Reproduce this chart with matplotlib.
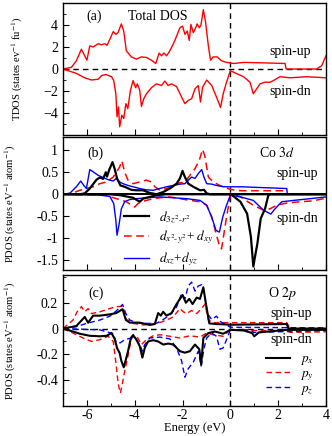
import numpy as np
import matplotlib
matplotlib.use("Agg")
import matplotlib.pyplot as plt
from matplotlib.ticker import MultipleLocator

plt.rcParams['font.family'] = ['Liberation Serif', 'DejaVu Serif']
plt.rcParams['mathtext.fontset'] = 'stix'

# ---------------- Panel (a): Total DOS ----------------
tdos_up_E = [-7, -6.65, -6.44, -6.23, -6.09, -6.0, -5.88, -5.74, -5.53, -5.39, -5.25, -5.16, -5.04, -4.9, -4.79, -4.7,
             -4.56, -4.46, -4.35, -4.14, -3.93, -3.72, -3.51, -3.3, -3.12, -2.98, -2.88, -2.78, -2.67, -2.53, -2.32,
             -2.11, -2.0, -1.9, -1.8, -1.72, -1.65, -1.55, -1.45, -1.39, -1.3, -1.23, -1.13, -1.04, -0.92, -0.83,
             -0.72, -0.55, -0.37, -0.16, 0, 0.14, 0.55, 1.53, 2.29, 2.33, 3.61, 3.82, 4.0]
tdos_up = [0, 0.15, 0.75, 1.8, 1.2, 0.8, 2.1, 2.0, 2.3, 2.2, 2.3, 2.15, 2.7, 3.4, 3.15, 3.3,
           4.1, 3.45, 1.65, 1.1, 0.9, 1.1, 1.05, 0.8, 0.5, 1.45, 1.2, 1.45, 1.2, 1.65, 2.6,
           3.75, 3.9, 3.15, 3.45, 2.6, 4.05, 3.3, 3.75, 4.1, 3.75, 4.0, 5.4, 4.3, 2.1, 0.8,
           1.1, 1.1, 0.75, 0.6, 0.55, 0.5, 0.6, 0.55, 0.5, 0.0, 0.0, 0.3, 1.2]
tdos_dn_E = [-7, -6.44, -6.09, -5.81, -5.53, -5.39, -5.21, -4.97, -4.88, -4.79, -4.74, -4.68, -4.63, -4.54, -4.46,
             -4.37, -4.29, -4.18, -4.07, -3.96, -3.89, -3.79, -3.72, -3.62, -3.51, -3.3, -3.09, -2.88, -2.74, -2.6,
             -2.46, -2.25, -2.04, -1.9, -1.76, -1.62, -1.48, -1.34, -1.25, -1.16, -0.99, -0.78, -0.58, -0.41, -0.3,
             -0.16, 0, 0.14, 0.55, 0.82, 0.96, 1.1, 1.24, 1.45, 1.66, 1.8, 2.08, 2.5, 3.2, 4.0]
tdos_dn = [0, -0.4, -0.8, -1.0, -0.93, -0.6, -0.5, -0.7, -1.05, -2.25, -4.35, -3.45, -5.25, -4.2, -4.5,
           -3.15, -3.6, -1.95, -1.05, -1.7, -1.35, -1.95, -3.4, -2.7, -2.25, -1.7, -1.35, -1.5, -1.1, -1.5,
           -1.35, -1.6, -2.55, -3.15, -2.85, -2.7, -1.8, -1.5, -3.0, -1.65, -1.0, -1.5, -2.55, -3.5, -2.25,
           -1.2, -0.15, -0.3, -0.7, -1.2, -2.25, -1.8, -1.35, -1.2, -1.2, -1.05, -0.7, -0.8, -0.7, -0.8]

# ---------------- Panel (b): Co 3d ----------------
dz2_up_E = [-7, -6.3, -6.09, -5.88, -5.6, -5.46, -5.32, -5.21, -5.16, -5.07, -4.93, -4.84, -4.74, -4.6, -4.42,
            -4.14, -3.93, -3.65, -3.37, -3.09, -2.81, -2.53, -2.25, -2.11, -2.0, -1.9, -1.76, -1.55, -1.27, -1.1,
            -0.99, -0.85, 4.0]
dz2_up = [0, 0, 0.02, 0.13, 0.33, 0.38, 0.35, 0.5, 0.4, 0.55, 0.73, 0.58, 0.36, 0.2, 0.17,
          0.1, 0.09, 0.09, 0.03, 0, 0.05, 0.13, 0.24, 0.36, 0.53, 0.39, 0.24, 0.17, 0.09, 0.1,
          0.02, 0, 0]
dz2_dn_E = [-7, -5.04, -4.63, -4.07, -3.79, -3.65, -3.37, -3.09, -2.67, 0, 0.14, 0.42, 0.7, 0.86, 0.96, 1.03,
            1.13, 1.27, 1.45, 1.59, 1.66, 4.0]
dz2_dn = [0, 0, -0.02, -0.08, -0.17, -0.1, -0.06, -0.02, 0, 0, -0.05, -0.17, -0.44, -0.97, -1.64, -1.42,
          -1.12, -0.55, -0.33, -0.02, 0, 0]

dxy_up_E = [-7, -6.58, -6.3, -6.02, -5.74, -5.46, -5.18, -4.9, -4.77, -4.63, -4.54, -4.42, -4.28, -4.07, -3.79,
            -3.51, -3.3, -3.16, -2.95, -2.67, -2.39, -2.11, -1.9, -1.69, -1.48, -1.3, -1.16, -1.06, -0.92, -0.72,
            -0.44, 0, 0.42, 2.29, 2.33, 4.0]
dxy_up = [0, 0.03, 0.09, 0.13, 0.17, 0.24, 0.28, 0.39, 0.5, 0.62, 0.76, 0.5, 0.32, 0.24, 0.28,
          0.32, 0.28, 0.17, 0.09, 0.13, 0.2, 0.26, 0.28, 0.43, 0.58, 0.77, 1.02, 0.85, 0.39, 0.28,
          0.2, 0.11, 0.08, 0.08, 0, 0]
dxy_dn_E = [-7, -5.18, -4.9, -4.63, -4.35, -4.14, -4.0, -3.86, -3.72, -3.51, -3.23, -2.95, -2.53, -2.11, -1.69,
            -1.27, -0.99, -0.78, -0.58, -0.44, -0.37, -0.27, -0.16, 0, 0.14, 0.42, 0.96, 1.38, 1.66, 1.94,
            2.36, 2.92, 3.47, 3.89, 4.0]
dxy_dn = [0, -0.02, -0.08, -0.12, -0.17, -0.25, -0.29, -0.21, -0.17, -0.14, -0.1, -0.08, -0.06, -0.1, -0.14,
          -0.17, -0.25, -0.52, -0.93, -1.2, -1.24, -0.9, -0.52, -0.02, 0, -0.06, -0.25, -0.36, -0.33, -0.25,
          -0.2, -0.17, -0.15, -0.1, -0.06]

dxz_up_E = [-7, -6.72, -6.44, -6.26, -6.13, -6.02, -5.88, -5.74, -5.53, -5.32, -5.11, -4.9, -4.77, -4.63, -4.49,
            -4.28, -4.07, -3.79, -3.51, -3.23, -2.95, -2.67, -2.39, -2.11, -1.9, -1.76, -1.62, -1.48, -1.34, -1.2,
            -1.1, -0.99, -0.78, -0.58, -0.3, 0, 0.42, 2.36, 2.38, 4.0]
dxz_up = [0, 0.02, 0.17, 0.3, 0.2, 0.13, 0.56, 0.51, 0.43, 0.38, 0.33, 0.3, 0.36, 0.28, 0.24,
          0.2, 0.17, 0.13, 0.1, 0.09, 0.13, 0.17, 0.2, 0.23, 0.24, 0.32, 0.39, 0.36, 0.47, 0.56,
          0.38, 0.24, 0.23, 0.2, 0.17, 0.17, 0.17, 0.13, 0, 0]
dxz_dn_E = [-7, -5.46, -5.04, -4.88, -4.79, -4.74, -4.65, -4.56, -4.42, -4.21, -3.93, -3.51, -2.95, -2.39, -1.83,
            -1.27, -0.99, -0.78, -0.6, -0.46, -0.32, -0.16, 0, 0.42, 0.96, 1.38, 1.69, 1.87, 2.15, 2.64,
            3.34, 4.0]
dxz_dn = [0, -0.02, -0.05, -0.21, -0.59, -0.93, -0.67, -0.33, -0.17, -0.12, -0.1, -0.08, -0.06, -0.08, -0.1,
          -0.14, -0.25, -0.52, -0.82, -0.86, -0.52, -0.25, -0.02, -0.06, -0.14, -0.36, -0.45, -0.33, -0.17, -0.14,
          -0.1, -0.06]

# ---------------- Panel (c): O 2p ----------------
px_up_E = [-7, -6.44, -6.09, -5.95, -5.74, -5.46, -5.04, -4.77, -4.51, -4.37, -4.21, -3.79, -3.37, -3.16, -3.02,
           -2.91, -2.81, -2.67, -2.46, -2.25, -2.0, -1.86, -1.72, -1.58, -1.41, -1.27, -1.13, -1.02, -0.88, -0.58,
           0, 2.36, 2.43, 4.0]
px_up = [0, 0.02, 0.09, 0.045, 0.1, 0.1, 0.11, 0.12, 0.15, 0.066, 0.046, 0.046, 0.028, 0.035, 0.12,
         0.1, 0.13, 0.1, 0.12, 0.19, 0.26, 0.2, 0.23, 0.19, 0.24, 0.23, 0.32, 0.19, 0.04, 0.035,
         0.03, 0.035, 0, 0]
px_dn_E = [-7, -6.58, -6.3, -5.88, -5.46, -5.18, -4.97, -4.84, -4.74, -4.63, -4.56, -4.46, -4.37, -4.28, -4.16,
           -4.07, -3.93, -3.79, -3.68, -3.58, -3.44, -3.23, -3.02, -2.81, -2.6, -2.39, -2.11, -1.9, -1.69, -1.48,
           -1.3, -1.22, -1.13, -0.92, -0.64, -0.3, 0, 0.56, 0.91, 1.0, 1.19, 2.36, 4.0]
px_dn = [0, -0.023, -0.04, -0.056, -0.06, -0.056, -0.035, -0.08, -0.15, -0.19, -0.25, -0.3, -0.24, -0.175, -0.073,
         -0.05, -0.086, -0.137, -0.225, -0.15, -0.1, -0.09, -0.1, -0.124, -0.116, -0.124, -0.175, -0.187, -0.175, -0.124,
         -0.16, -0.28, -0.073, -0.035, -0.023, -0.04, -0.01, -0.015, -0.035, -0.06, -0.03, -0.01, -0.01]

py_up_E = [-7, -6.58, -6.41, -6.23, -6.09, -5.95, -5.81, -5.46, -5.04, -4.77, -4.49, -4.35, -4.07, -3.65, -3.23,
           -2.95, -2.67, -2.39, -2.11, -1.97, -1.83, -1.62, -1.41, -1.2, -1.06, -0.92, -0.72, 0, 2.36, 2.5, 4.0]
py_up = [0, 0.066, 0.13, 0.17, 0.13, 0.155, 0.116, 0.13, 0.155, 0.17, 0.172, 0.07, 0.04, 0.028, 0.035,
         0.046, 0.066, 0.09, 0.155, 0.13, 0.116, 0.14, 0.116, 0.155, 0.19, 0.066, 0.046, 0.046, 0.046, 0, 0]
py_dn_E = [-7, -6.58, -6.16, -5.81, -5.46, -5.11, -4.9, -4.79, -4.69, -4.6, -4.51, -4.42, -4.28, -4.14, -3.93,
           -3.72, -3.51, -3.23, -2.95, -2.53, -2.11, -1.69, -1.27, -0.99, -0.72, -0.3, 0, 0.98, 2.36, 2.5, 4.0]
py_dn = [0, -0.035, -0.073, -0.1, -0.086, -0.06, -0.1, -0.26, -0.43, -0.5, -0.42, -0.33, -0.21, -0.073, -0.056,
         -0.124, -0.086, -0.056, -0.048, -0.06, -0.073, -0.056, -0.066, -0.035, -0.048, -0.06, -0.01, -0.015, -0.015, -0.03, -0.025]

pz_up_E = [-7, -6.44, -6.02, -5.46, -5.04, -4.77, -4.51, -4.37, -4.21, -3.93, -3.51, -3.09, -2.81, -2.53, -2.25,
           -2.04, -1.9, -1.76, -1.62, -1.48, -1.34, -1.2, -1.1, -0.96, -0.78, -0.58, -0.41, -0.16, 0, 4.0]
pz_up = [0, 0.015, 0.04, 0.066, 0.096, 0.137, 0.187, 0.116, 0.066, 0.046, 0.04, 0.04, 0.07, 0.104, 0.167,
         0.27, 0.23, 0.33, 0.36, 0.29, 0.33, 0.34, 0.28, 0.116, 0.07, 0.096, 0.053, 0.028, 0.01, 0.005]
pz_dn_E = [-7, -5.46, -4.9, -4.77, -4.6, -4.42, -4.14, -3.93, -3.79, -3.68, -3.58, -3.37, -2.95, -2.53, -2.25,
           -2.04, -1.9, -1.76, -1.55, -1.34, -1.22, -1.1, -0.99, -0.78, -0.58, -0.44, -0.3, -0.16, 0, 0.84,
           0.98, 4.0]
pz_dn = [0, -0.01, -0.04, -0.11, -0.11, -0.086, -0.073, -0.086, -0.124, -0.175, -0.124, -0.073, -0.066, -0.08, -0.15,
         -0.25, -0.377, -0.31, -0.26, -0.175, -0.29, -0.15, -0.073, -0.035, -0.06, -0.16, -0.15, -0.086, -0.01, -0.01,
         -0.03, -0.015]

xticks = [-6, -4, -2, 0, 2, 4]

fig = plt.figure(figsize=(3.32, 4.36), dpi=100)
W, H = 332, 436
def pos(top, bottom, left=63, right=326):
    return [left / W, 1 - bottom / H, (right - left) / W, (bottom - top) / H]

axA = fig.add_axes(pos(3, 135))
axB = fig.add_axes(pos(137, 270))
axC = fig.add_axes(pos(275, 406))

FS = 10
for ax in (axA, axB, axC):
    ax.set_xlim(-7, 4)
    ax.xaxis.set_major_locator(MultipleLocator(2))
    ax.xaxis.set_minor_locator(MultipleLocator(1))
    ax.tick_params(which='both', direction='in', labelsize=FS, top=False, right=False)
    ax.tick_params(which='major', length=4)
    ax.tick_params(which='minor', length=2.5)
    ax.axvline(0, color='black', ls=(0, (4, 3)), lw=1.0, zorder=1)
    for s in ax.spines.values():
        s.set_linewidth(1.0)

axA.tick_params(labelbottom=False)
axB.tick_params(labelbottom=False)

# Panel a
axA.axhline(0, color='black', ls=(0, (4, 3)), lw=1.0)
axA.plot(tdos_up_E, tdos_up, color='red', lw=1.0)
axA.plot(tdos_dn_E, tdos_dn, color='red', lw=1.0)
axA.set_ylim(-6, 6)
axA.yaxis.set_major_locator(MultipleLocator(2))
axA.yaxis.set_minor_locator(MultipleLocator(1))
axA.set_yticks([-4, -2, 0, 2, 4])
axA.set_ylabel('TDOS (states ev$^{-1}$ fu$^{-1}$)', fontsize=7.6)
axA.yaxis.set_label_coords(-0.145, 0.5)
axA.text(-5.7, 4.8, '(a)', fontsize=FS, ha='center', va='center')
axA.text(-3.05, 4.8, 'Total DOS', fontsize=FS, ha='center', va='center')
axA.text(2.5, 1.6, 'spin-up', fontsize=FS, ha='center', va='center')
axA.text(2.5, -2.05, 'spin-dn', fontsize=FS, ha='center', va='center')

# Panel b
axB.axhline(0, color='black', lw=1.4, zorder=2)
l1, = axB.plot(dz2_up_E, dz2_up, color='black', lw=1.6, zorder=3)
axB.plot(dz2_dn_E, dz2_dn, color='black', lw=1.6, zorder=3)
l2, = axB.plot(dxy_up_E, dxy_up, color='red', lw=1.1, ls=(0, (5, 3)))
axB.plot(dxy_dn_E, dxy_dn, color='red', lw=1.1, ls=(0, (5, 3)))
l3, = axB.plot(dxz_up_E, dxz_up, color='blue', lw=1.0)
axB.plot(dxz_dn_E, dxz_dn, color='blue', lw=1.0)
axB.set_ylim(-1.72, 1.3)
axB.set_yticks([-1.5, -1, -0.5, 0, 0.5, 1])
axB.set_yticklabels(['-1.5', '-1', '-0.5', '0', '0.5', '1'])
axB.set_ylabel('PDOS (states eV$^{-1}$ atom$^{-1}$)', fontsize=7.6)
axB.yaxis.set_label_coords(-0.172, 0.5)
axB.text(-5.65, 0.93, '(b)', fontsize=FS, ha='center', va='center')
axB.text(1.95, 0.93, 'Co $\\it{3d}$', fontsize=FS, ha='center', va='center')
axB.text(2.8, 0.48, 'spin-up', fontsize=FS, ha='center', va='center')
axB.text(2.8, -0.55, 'spin-dn', fontsize=FS, ha='center', va='center')
axB.legend([l1, l2, l3], ['$d_{3z^2\\text{-}r^2}$', '$d_{x^2\\text{-}y^2}$+ $d_{xy}$', '$d_{xz}$+$d_{yz}$'],
           loc='lower left', bbox_to_anchor=(0.185, -0.075), frameon=False, fontsize=9.5,
           handlelength=1.9, handletextpad=0.8, labelspacing=0.3)

# Panel c
axC.axhline(0, color='black', ls=(0, (4, 3)), lw=1.0)
m1, = axC.plot(px_up_E, px_up, color='black', lw=1.5, zorder=3)
axC.plot(px_dn_E, px_dn, color='black', lw=1.5, zorder=3)
m2, = axC.plot(py_up_E, py_up, color='red', lw=1.0, ls=(0, (4, 2.5)))
axC.plot(py_dn_E, py_dn, color='red', lw=1.0, ls=(0, (4, 2.5)))
m3, = axC.plot(pz_up_E, pz_up, color='blue', lw=1.0, ls=(0, (4, 2.5)))
axC.plot(pz_dn_E, pz_dn, color='blue', lw=1.0, ls=(0, (4, 2.5)))
axC.set_ylim(-0.6, 0.415)
axC.set_yticks([-0.4, -0.2, 0, 0.2])
axC.set_yticklabels(['-0.4', '-0.2', '0', '0.2'])
axC.yaxis.set_minor_locator(MultipleLocator(0.1))
axC.set_xticks(xticks)
axC.set_xticklabels([str(v) for v in xticks])
axC.tick_params(axis='x', pad=2)
axC.set_xlabel('Energy (eV)', fontsize=9, labelpad=0)
axC.set_ylabel('PDOS (states eV$^{-1}$ atom$^{-1}$)', fontsize=7.6)
axC.yaxis.set_label_coords(-0.172, 0.5)
axC.text(-5.6, 0.27, '(c)', fontsize=FS, ha='center', va='center')
axC.text(2.2, 0.27, 'O $\\it{2p}$', fontsize=FS, ha='center', va='center')
axC.text(2.55, 0.12, 'spin-up', fontsize=FS, ha='center', va='center')
axC.text(2.55, -0.085, 'spin-dn', fontsize=FS, ha='center', va='center')
axC.legend([m1, m2, m3], ['$p_x$', '$p_y$', '$p_z$'],
           loc='lower right', bbox_to_anchor=(1.0, -0.02), frameon=False, fontsize=9.5,
           handlelength=1.8, handletextpad=0.8, labelspacing=0.0)

fig.savefig('out.png', dpi=100)
